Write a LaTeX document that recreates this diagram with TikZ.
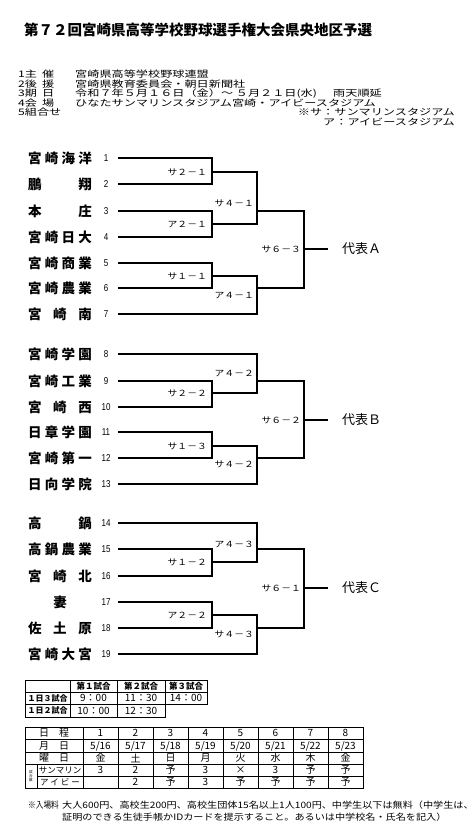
\documentclass[tikz,border=0pt]{standalone}
\usepackage{fontspec}
\newfontfamily\cjk{Noto Sans CJK JP}
\newfontfamily\cjkw{Noto Sans CJK JP}[FakeStretch=1.15]
\newfontfamily\cjkh{Noto Sans CJK JP}[FakeStretch=1.35]
\newfontfamily\cjkn{Noto Sans CJK JP}[FakeStretch=0.85]
\newfontfamily\narrowf{Liberation Sans}[FakeStretch=0.8]
\tikzset{
  ln/.style={line width=1.1pt},
  tb/.style={line width=0.9pt},
  ttl/.style={font=\cjk\bfseries\fontsize{14.5}{16}\selectfont, anchor=west, inner sep=0pt},
  team/.style={font=\cjk\bfseries\fontsize{13.5}{15}\selectfont, inner sep=0pt},
  num/.style={font=\narrowf\fontsize{10}{12}\selectfont, inner sep=0pt},
  mlab/.style={font=\cjkw\fontsize{8.5}{10}\selectfont, anchor=east, inner sep=0pt},
  rep/.style={font=\cjk\fontsize{13}{15}\selectfont, anchor=west, inner sep=0pt},
  hdr/.style={font=\cjkh\fontsize{9}{10}\selectfont, anchor=west, inner sep=0pt},
  hdre/.style={hdr, anchor=east},
  foot/.style={font=\cjkw\fontsize{8.8}{10}\selectfont, anchor=west, inner sep=0pt},
  th/.style={font=\cjk\bfseries\fontsize{8.5}{10}\selectfont, inner sep=0pt},
  tl/.style={font=\cjk\bfseries\fontsize{8}{10}\selectfont, inner sep=0pt},
  tt/.style={font=\cjk\fontsize{10}{12}\selectfont, inner sep=0pt},
  tc/.style={font=\cjk\fontsize{10}{12}\selectfont, inner sep=0pt},
}
\newcommand\myteam[3]{%
  \node[team] (n#1) at (60,#2) {\makebox[64pt]{#3}};
  \node[num] (t#1) at (106,#2) {#1};
  \coordinate (s#1) at (118,#2);}
\begin{document}
\begin{tikzpicture}[x=1pt,y=-1pt]
\useasboundingbox (0,0) rectangle (473,827);
\fill[white] (0,0) rectangle (473,827);

% title and header
\node[ttl] (title) at (24,30) {第７２回宮崎県高等学校野球選手権大会県央地区予選};
\node[hdr] (h1) at (18,74) {\makebox[36pt]{1主\hfill 催}};
\node[hdr] (h2) at (18,84) {\makebox[36pt]{2後\hfill 援}};
\node[hdr] (h3) at (18,93.5) {\makebox[36pt]{3期\hfill 日}};
\node[hdr] (h4) at (18,103) {\makebox[36pt]{4会\hfill 場}};
\node[hdr] (h5) at (18,112.5) {5組合せ};
\node[hdr] (c1) at (75,74) {宮崎県高等学校野球連盟};
\node[hdr] (c2) at (75,84) {宮崎県教育委員会・朝日新聞社};
\node[hdr] (c3) at (75,93.5) {令和７年５月１６日（金）～ ５月２１日(水)};
\node[hdr] (c3b) at (333,93.5) {雨天順延};
\node[hdr] (c4) at (75,103) {ひなたサンマリンスタジアム宮崎・アイビースタジアム};
\node[hdre] (k1) at (455,112.5) {※サ：サンマリンスタジアム};
\node[hdre] (k2) at (455,122) {ア：アイビースタジアム};

% teams
\myteam{1}{158}{宮\hfill 崎\hfill 海\hfill 洋}
\myteam{2}{184}{鵬\hfill 翔}
\myteam{3}{211}{本\hfill 庄}
\myteam{4}{237}{宮\hfill 崎\hfill 日\hfill 大}
\myteam{5}{263}{宮\hfill 崎\hfill 商\hfill 業}
\myteam{6}{288}{宮\hfill 崎\hfill 農\hfill 業}
\myteam{7}{314}{宮\hfill 崎\hfill 南}
\myteam{8}{354}{宮\hfill 崎\hfill 学\hfill 園}
\myteam{9}{381}{宮\hfill 崎\hfill 工\hfill 業}
\myteam{10}{407}{宮\hfill 崎\hfill 西}
\myteam{11}{432}{日\hfill 章\hfill 学\hfill 園}
\myteam{12}{458}{宮\hfill 崎\hfill 第\hfill 一}
\myteam{13}{484}{日\hfill 向\hfill 学\hfill 院}
\myteam{14}{523}{高\hfill 鍋}
\myteam{15}{549}{高\hfill 鍋\hfill 農\hfill 業}
\myteam{16}{576}{宮\hfill 崎\hfill 北}
\myteam{17}{602}{妻}
\myteam{18}{628}{佐\hfill 土\hfill 原}
\myteam{19}{654}{宮\hfill 崎\hfill 大\hfill 宮}

% joints
\coordinate (m1) at (212,172); \coordinate (m2) at (212,224); \coordinate (m3) at (212,276);
\coordinate (q1) at (257,211); \coordinate (q2) at (257,288);
\coordinate (f1) at (304,249); \coordinate (e1) at (328,249);
\coordinate (m4) at (212,393); \coordinate (m5) at (212,446);
\coordinate (q3) at (257,381); \coordinate (q4) at (257,458);
\coordinate (f2) at (304,420); \coordinate (e2) at (328,420);
\coordinate (m6) at (212,562); \coordinate (m7) at (212,615);
\coordinate (q5) at (257,549); \coordinate (q6) at (257,628);
\coordinate (f3) at (304,588); \coordinate (e3) at (328,588);

% bracket A
\draw[ln] (s1) -| (m1) |- (s2);
\draw[ln] (s3) -| (m2) |- (s4);
\draw[ln] (s5) -| (m3) |- (s6);
\draw[ln] (m1) -| (q1) |- (m2);
\draw[ln] (m3) -| (q2) |- (s7);
\draw[ln] (q1) -| (f1) |- (q2);
\draw[ln] (f1) -- (e1);
% bracket B
\draw[ln] (s9) -| (m4) |- (s10);
\draw[ln] (s11) -| (m5) |- (s12);
\draw[ln] (s8) -| (q3) |- (m4);
\draw[ln] (m5) -| (q4) |- (s13);
\draw[ln] (q3) -| (f2) |- (q4);
\draw[ln] (f2) -- (e2);
% bracket C
\draw[ln] (s15) -| (m6) |- (s16);
\draw[ln] (s17) -| (m7) |- (s18);
\draw[ln] (s14) -| (q5) |- (m6);
\draw[ln] (m7) -| (q6) |- (s19);
\draw[ln] (q5) -| (f3) |- (q6);
\draw[ln] (f3) -- (e3);

% match labels
\node[mlab] (l1) at (207,172) {サ２－１};
\node[mlab] (l2) at (207,224) {ア２－１};
\node[mlab] (l3) at (207,276) {サ１－１};
\node[mlab] (l4) at (254,203) {サ４－１};
\node[mlab] (l5) at (254,296) {ア４－１};
\node[mlab] (l6) at (301,249) {サ６－３};
\node[rep] (rA) at (342,249) {代表Ａ};
\node[mlab] (l7) at (207,393) {サ２－２};
\node[mlab] (l8) at (207,446) {サ１－３};
\node[mlab] (l9) at (254,373) {ア４－２};
\node[mlab] (l10) at (254,464) {サ４－２};
\node[mlab] (l11) at (301,420) {サ６－２};
\node[rep] (rB) at (342,420) {代表Ｂ};
\node[mlab] (l12) at (207,562) {サ１－２};
\node[mlab] (l13) at (207,615) {ア２－２};
\node[mlab] (l14) at (254,544) {ア４－３};
\node[mlab] (l15) at (254,634) {サ４－３};
\node[mlab] (l16) at (301,588) {サ６－１};
\node[rep] (rC) at (342,588) {代表Ｃ};

% time table
\draw[tb] (25,680) -- (207,680) -- (207,704) -- (25,704);
\draw[tb] (25,692) -- (207,692);
\draw[tb] (25,680) -- (25,717) -- (165,717) -- (165,680);
\draw[tb] (70,680) -- (70,717);
\draw[tb] (117,680) -- (117,717);
\node[th] (g1) at (93.5,686) {第１試合};
\node[th] (g2) at (141,686) {第２試合};
\node[th] (g3) at (186,686) {第３試合};
\node[tl] (r1) at (47.5,698) {１日３試合};
\node[tl] (r2) at (47.5,710.5) {１日２試合};
\node[tt] (x11) at (93.5,698) {9：00};
\node[tt] (x12) at (141,698) {11：30};
\node[tt] (x13) at (186,698) {14：00};
\node[tt] (x21) at (93.5,710.5) {10：00};
\node[tt] (x22) at (141,710.5) {12：30};

% schedule table
\draw[tb] (25,727) rectangle (363,788);
\foreach \yy in {739.5,752,764} \draw[tb] (25,\yy) -- (363,\yy);
\draw[tb] (37,776) -- (363,776);
\draw[tb] (37,764) -- (37,788);
\foreach \k in {0,...,7} \draw[tb] (83+35*\k,727) -- (83+35*\k,788);
\node[tc] (d0) at (54,733) {\makebox[30pt]{日\hfill 程}};
\node[tc] (d1) at (54,746) {\makebox[30pt]{月\hfill 日}};
\node[tc] (d2) at (54,758) {\makebox[30pt]{曜\hfill 日}};
\node[font=\cjk\fontsize{8.5}{10}\selectfont, inner sep=0pt] (d3) at (60,770) {サンマリン};
\node[font=\cjk\fontsize{8.5}{10}\selectfont, inner sep=0pt] (d4) at (60,782) {\makebox[40pt]{ア\hfill イ\hfill ビ\hfill ー}};
\node[font=\cjk\fontsize{3.6}{4.2}\selectfont, inner sep=0pt, align=center] (d5) at (31,776) {試\\合\\数};
\foreach \v [count=\i from 0] in {1,2,3,4,5,6,7,8}
  \node[tc] (a\i) at (100.5+35*\i,733) {\v};
\foreach \v [count=\i from 0] in {5/16,5/17,5/18,5/19,5/20,5/21,5/22,5/23}
  \node[tc] (b\i) at (100.5+35*\i,746) {\v};
\foreach \v [count=\i from 0] in {金,土,日,月,火,水,木,金}
  \node[tc] (w\i) at (100.5+35*\i,758) {\v};
\foreach \v [count=\i from 0] in {3,2,予,3,×,3,予,予}
  \node[tc] (p\i) at (100.5+35*\i,770) {\v};
\foreach \v [count=\i from 1] in {2,予,3,予,予,予,予}
  \node[tc] (o\i) at (100.5+35*\i,782) {\v};

% footnote
\node[font=\cjkn\fontsize{9}{10}\selectfont, anchor=west, inner sep=0pt] (fn0) at (28,805) {※入場料};
\node[foot] (fn1) at (62,805) {大人600円、高校生200円、高校生団体15名以上1人100円、中学生以下は無料（中学生は、};
\node[foot] (fn2) at (62,817) {証明のできる生徒手帳かIDカードを提示すること。あるいは中学校名・氏名を記入）};
\end{tikzpicture}
\end{document}
